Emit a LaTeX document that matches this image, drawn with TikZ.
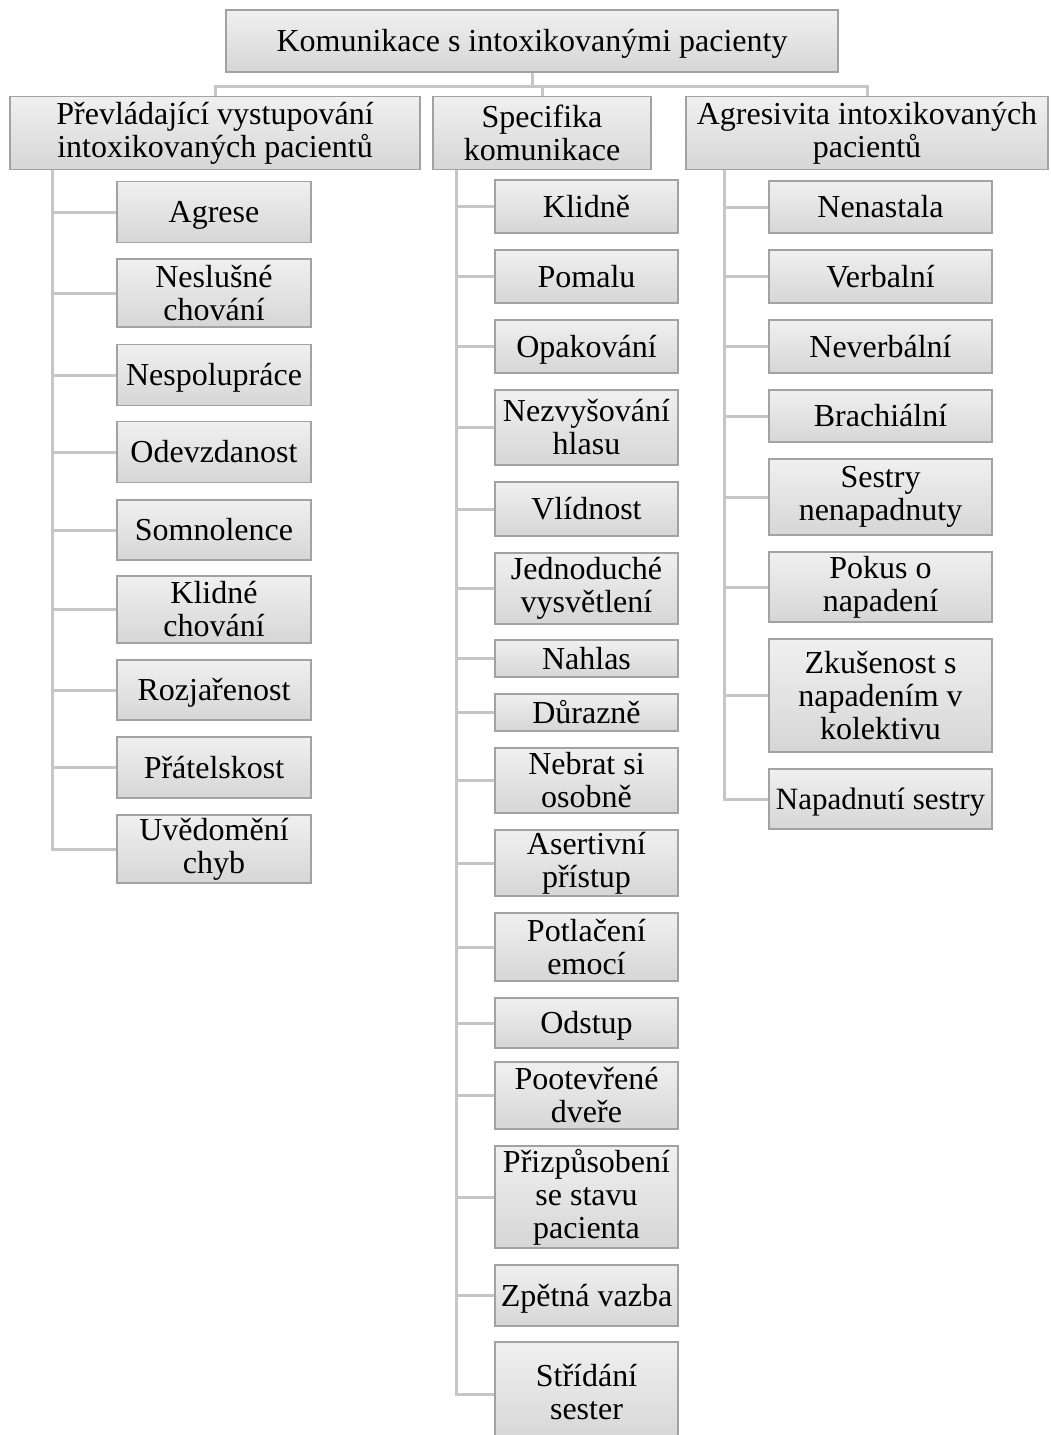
\documentclass[tikz,border=0pt]{standalone}
\usepackage{fontspec}
\setmainfont{Liberation Serif}
\usetikzlibrary{calc}
\definecolor{boxtop}{HTML}{F0F0F0}
\definecolor{boxbot}{HTML}{D6D6D6}
\definecolor{boxline}{HTML}{A2A2A2}
\definecolor{linkgray}{HTML}{C6C6C6}
\newcommand{\boxfont}{\fontsize{16pt}{16.5pt}\selectfont}
\tikzset{
  box/.style={draw=boxline, line width=0.6pt, top color=boxtop, bottom color=boxbot,
    align=center, inner sep=0pt, font=\boxfont},
  solo/.style={text height=14pt, text depth=3.5pt},
  lbox/.style={box, minimum width=97pt},
  mbox/.style={box, minimum width=91.5pt},
  rbox/.style={box, minimum width=111.5pt},
  link/.style={draw=linkgray, line width=1.5pt},
}

\begin{document}
\begin{tikzpicture}[x=1pt,y=-1pt]
  \useasboundingbox (0,0) rectangle (525,717.5);
  % top of the tree
  \node[box, solo, minimum width=306pt, minimum height=31pt] (root) at (266,20.5) {Komunikace s intoxikovanými pacienty};
  \node[box, minimum width=205pt, minimum height=36.5pt] (hl) at (107.5,66.5) {Převládající vystupování\\intoxikovaných pacientů};
  \node[box, minimum width=109pt, minimum height=36.5pt] (hm) at (271,66.5) {Specifika\\komunikace};
  \node[box, minimum width=181pt, minimum height=36.5pt] (hr) at (433.5,66.5) {Agresivita intoxikovaných\\pacientů};
  \coordinate (bus) at (266,43);
  \draw[link] (root.south) -- (bus);
  \draw[link] (hl.north) |- (bus) -| (hr.north);
  \draw[link] (bus -| hm.north) -- (hm.north);

  % left column
  \node[lbox, solo, minimum height=30.5pt] (l1) at (107,106) {Agrese};
  \node[lbox, minimum height=34pt] (l2) at (107,146.5) {Neslušné\\chování};
  \node[lbox, solo, minimum height=30.5pt] (l3) at (107,187.5) {Nespolupráce};
  \node[lbox, solo, minimum height=30.5pt] (l4) at (107,226) {Odevzdanost};
  \node[lbox, solo, minimum height=30pt] (l5) at (107,265) {Somnolence};
  \node[lbox, minimum height=33.5pt] (l6) at (107,304.75) {Klidné\\chování};
  \node[lbox, solo, minimum height=30pt] (l7) at (107,345) {Rozjařenost};
  \node[lbox, solo, minimum height=30.5pt] (l8) at (107,383.75) {Přátelskost};
  \node[lbox, minimum height=34pt] (l9) at (107,424.5) {Uvědomění\\chyb};
  \coordinate (lt) at ([xshift=21.5pt]hl.south west);
  \foreach \n in {l1,l2,l3,l4,l5,l6,l7,l8,l9}
    \draw[link] (lt) |- (\n.west);

  % middle column
  \node[mbox, solo, minimum height=26.5pt] (m1) at (293.25,103.25) {Klidně};
  \node[mbox, solo, minimum height=26.5pt] (m2) at (293.25,138.25) {Pomalu};
  \node[mbox, solo, minimum height=26.5pt] (m3) at (293.25,173.25) {Opakování};
  \node[mbox, minimum height=37.5pt] (m4) at (293.25,213.75) {Nezvyšování\\hlasu};
  \node[mbox, solo, minimum height=27pt] (m5) at (293.25,254.5) {Vlídnost};
  \node[mbox, minimum height=35.5pt] (m6) at (293.25,294.25) {Jednoduché\\vysvětlení};
  \node[mbox, solo, minimum height=18.5pt] (m7) at (293.25,329.25) {Nahlas};
  \node[mbox, solo, minimum height=18.5pt] (m8) at (293.25,356.25) {Důrazně};
  \node[mbox, minimum height=32.5pt] (m9) at (293.25,390.25) {Nebrat si\\osobně};
  \node[mbox, minimum height=33pt] (m10) at (293.25,431.5) {Asertivní\\přístup};
  \node[mbox, minimum height=34pt] (m11) at (293.25,473.5) {Potlačení\\emocí};
  \node[mbox, solo, minimum height=25pt] (m12) at (293.25,511.5) {Odstup};
  \node[mbox, minimum height=33.5pt] (m13) at (293.25,547.75) {Pootevřené\\dveře};
  \node[mbox, minimum height=51pt] (m14) at (293.25,598.5) {Přizpůsobení\\se stavu\\pacienta};
  \node[mbox, solo, minimum height=30.5pt] (m15) at (293.25,647.75) {Zpětná vazba};
  \node[mbox, minimum height=50pt] (m16) at (293.25,696) {Střídání\\sester};
  \coordinate (mt) at ([xshift=12pt]hm.south west);
  \foreach \n in {m1,m2,m3,m4,m5,m6,m7,m8,m9,m10,m11,m12,m13,m14,m15}
    \draw[link] (mt) |- (\n.west);
  \draw[link] (mt) |- ([yshift=-1pt]m16.west);

  % right column
  \node[rbox, solo, minimum height=26pt] (r1) at (440.25,103.5) {Nenastala};
  \node[rbox, solo, minimum height=26.5pt] (r2) at (440.25,138.25) {Verbalní};
  \node[rbox, solo, minimum height=26.5pt] (r3) at (440.25,173.25) {Neverbální};
  \node[rbox, solo, minimum height=26pt] (r4) at (440.25,208) {Brachiální};
  \node[rbox, minimum height=38pt] (r5) at (440.25,248.5) {Sestry\\nenapadnuty};
  \node[rbox, minimum height=35pt] (r6) at (440.25,293.5) {Pokus o\\napadení};
  \node[rbox, minimum height=56.5pt] (r7) at (440.25,347.75) {Zkušenost s\\napadením v\\kolektivu};
  \node[rbox, solo, minimum height=30pt, font=\fontsize{15.5pt}{16pt}\selectfont] (r8) at (440.25,399.5) {Napadnutí sestry};
  \coordinate (rt) at ([xshift=19.5pt]hr.south west);
  \foreach \n in {r1,r2,r3,r4,r5,r6,r7,r8}
    \draw[link] (rt) |- (\n.west);
\end{tikzpicture}
\end{document}
